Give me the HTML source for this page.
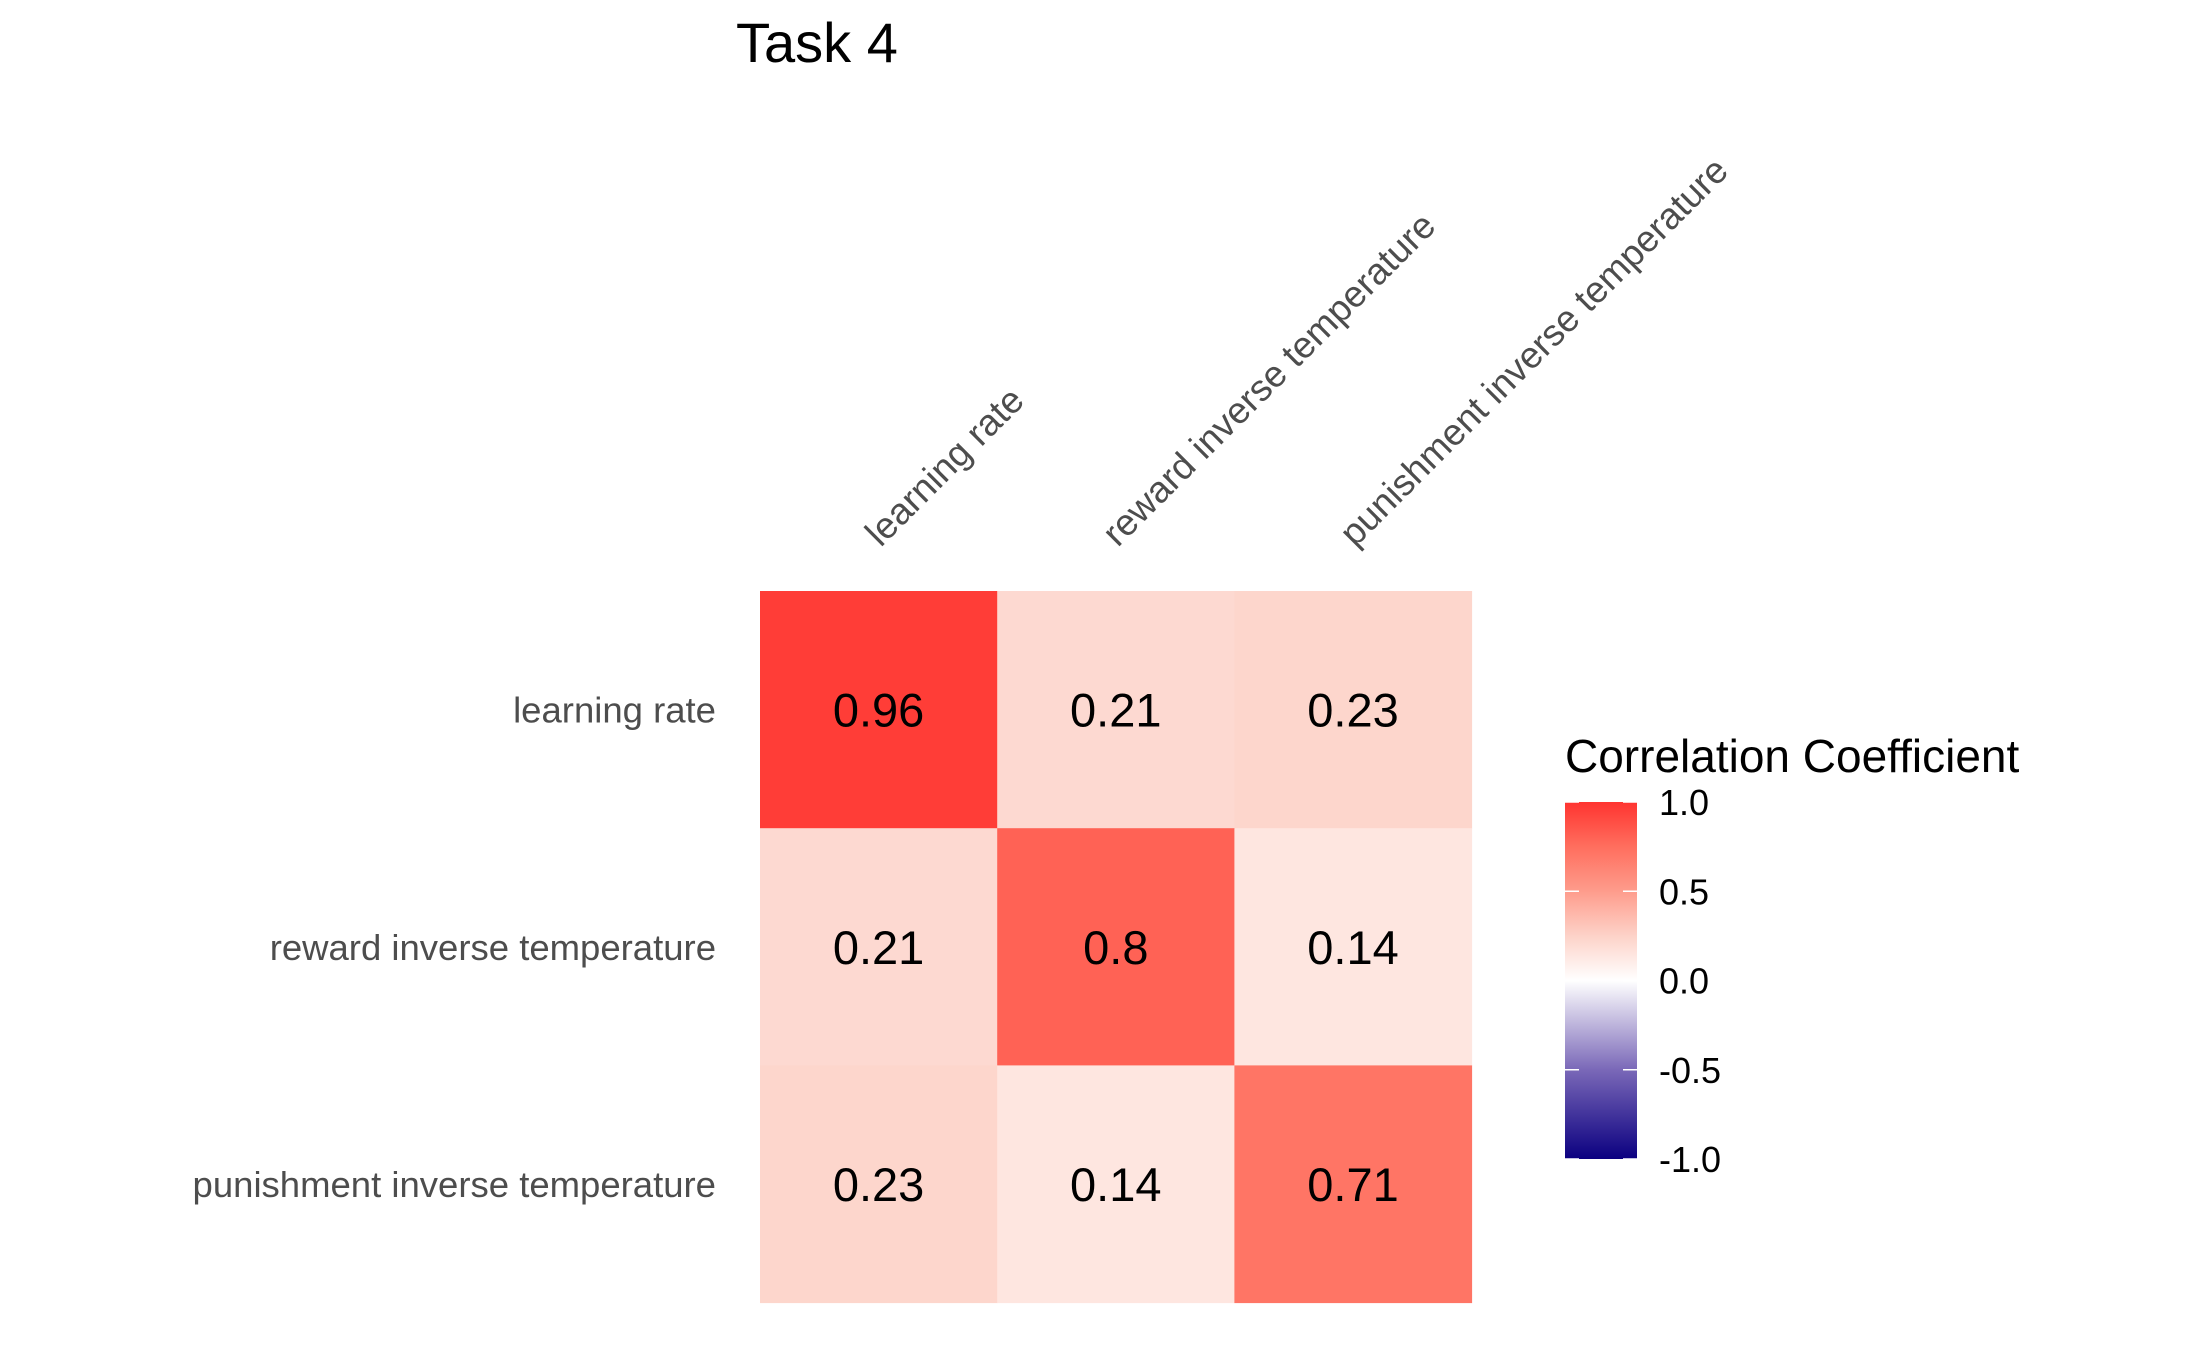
<!DOCTYPE html>
<html><head><meta charset="utf-8"><style>
html,body{margin:0;padding:0;background:#fff;}
svg{display:block;font-family:"Liberation Sans",Arial,sans-serif;}
</style></head><body>
<svg id="chart" width="2187" height="1350" viewBox="0 0 2187 1350">
<rect width="2187" height="1350" fill="#fff"/>
<text x="736" y="62" font-size="56" fill="#000">Task 4</text>
<defs><linearGradient id="grad" x1="0" y1="1" x2="0" y2="0"></linearGradient></defs>
<g id="cells"></g>
<g id="ylabels"></g>
<g id="xlabels"></g>
<g id="legend">
<text x="1565" y="772" font-size="46" fill="#000">Correlation Coefficient</text>
</g>
</svg>
<script>
const categories = ["learning rate", "reward inverse temperature", "punishment inverse temperature"];
const row0 = [0.96, 0.21, 0.23];
const row1 = [0.21, 0.8, 0.14];
const row2 = [0.23, 0.14, 0.71];
const legendTicks = [1.0, 0.5, 0.0, -0.5, -1.0];
const legendTickLabels = ["1.0", "0.5", "0.0", "-0.5", "-1.0"];

const NS = "http://www.w3.org/2000/svg";
const rows = [row0, row1, row2];
const x0 = 760, y0 = 591, cell = 237.2;
const xPos = i => x0 + i * cell;
const yPos = j => y0 + j * cell;
const lb0 = 802, lb1 = 1159;
const legY = v => lb1 - (v + 1) / 2 * (lb1 - lb0);

const stops = [[-1,[11,0,128]],[-0.5,[122,104,184]],[0,[255,255,255]],[0.25,[253,210,200]],[0.5,[254,156,140]],[0.75,[255,110,94]],[1,[255,52,48]]];
function color(v){
  for(let k=0;k<stops.length-1;k++){
    const [a,ca]=stops[k],[b,cb]=stops[k+1];
    if(v>=a&&v<=b){const t=(v-a)/(b-a);return "rgb("+ca.map((c,i)=>Math.round(c+(cb[i]-c)*t)).join(",")+")";}
  }
  return "rgb(255,52,48)";
}
function mk(tag,attrs,parent){const e=document.createElementNS(NS,tag);for(const k in attrs)e.setAttribute(k,attrs[k]);parent.appendChild(e);return e;}

const gCells=document.getElementById("cells");
rows.forEach((r,j)=>r.forEach((v,i)=>{
  const rc=mk("rect",{x:xPos(i),y:yPos(j),width:cell+0.5,height:cell+0.5,fill:color(v)},gCells);
  
  
  const t=mk("text",{x:xPos(i)+cell/2,y:yPos(j)+cell/2+17,"font-size":47,"text-anchor":"middle",fill:"#000"},gCells);
  
  
  t.textContent=String(v);
}));

const gy=document.getElementById("ylabels");
categories.forEach((c,j)=>{
  const t=mk("text",{x:716,y:yPos(j)+cell/2+13,"font-size":36.5,"text-anchor":"end",fill:"#4d4d4d"},gy);
  
  
  t.textContent=c;
});
const gx=document.getElementById("xlabels");
categories.forEach((c,i)=>{
  const x=xPos(i)+cell/2+2, y=548;
  const t=mk("text",{x:x,y:y,"font-size":37,fill:"#4d4d4d",transform:"rotate(-45 "+x+" "+y+")"},gx);
  
  
  t.textContent=c;
});

const grad=document.getElementById("grad");
stops.forEach(([v,c])=>{mk("stop",{offset:((v+1)/2*100)+"%","stop-color":"rgb("+c.join(",")+")"},grad);});
const gl=document.getElementById("legend");
const bar=mk("rect",{x:1565,y:lb0,width:72,height:lb1-lb0,fill:"url(#grad)"},gl);


legendTicks.forEach((v,k)=>{
  const y=legY(v);
  mk("line",{x1:1565,x2:1579,y1:y,y2:y,stroke:"#fff","stroke-width":1.5},gl);
  mk("line",{x1:1623,x2:1637,y1:y,y2:y,stroke:"#fff","stroke-width":1.5},gl);
  const t=mk("text",{x:1659,y:y+13,"font-size":36,fill:"#000"},gl);
  
  
  t.textContent=legendTickLabels[k];
});
</script>
</body></html>
